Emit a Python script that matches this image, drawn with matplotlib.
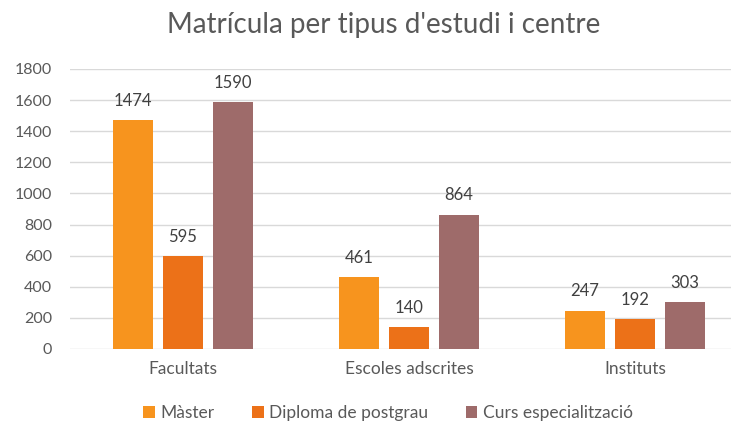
import numpy as np
import matplotlib
matplotlib.use('Agg')
import matplotlib.pyplot as plt

plt.rcParams['font.family'] = ['Lato', 'DejaVu Sans']

categories = ['Facultats', 'Escoles adscrites', 'Instituts']
series = ['Màster', 'Diploma de postgrau', 'Curs especialització']
master = [1474, 461, 247]
diploma = [595, 140, 192]
curs = [1590, 864, 303]
colors = ['#F7941E', '#EC7118', '#9E6B6A']
yticks = [0, 200, 400, 600, 800, 1000, 1200, 1400, 1600, 1800]

grey = '#595959'
fig = plt.figure(figsize=(7.31, 4.25), dpi=100)
W, H = 731., 425.
x0, x1 = 70., 748.
y0, y1 = 349., 69.
ax = fig.add_axes([x0/W, 1-y0/H, (x1-x0)/W, (y0-y1)/H])

x = np.arange(len(categories))
bw = 40./226.
step = 50./226.
for i, (vals, name, c) in enumerate(zip([master, diploma, curs], series, colors)):
    bars = ax.bar(x + (i-1)*step, vals, bw, color=c, label=name, zorder=3)
    for b, v in zip(bars, vals):
        ax.annotate(str(v), (b.get_x()+b.get_width()/2, v), xytext=(0, 8),
                    textcoords='offset points', ha='center', va='bottom',
                    fontsize=12, color='#404040')

ax.set_xlim(-0.5, 2.5)
ax.set_ylim(0, 1800)
ax.set_yticks(yticks)
ax.set_xticks(x)
ax.set_xticklabels(categories)
ax.grid(axis='y', color='#D9D9D9', lw=1, zorder=0)
for s in ['top', 'right', 'left', 'bottom']:
    ax.spines[s].set_visible(False)
ax.tick_params(axis='both', length=0, colors=grey, labelsize=11.5)
ax.tick_params(axis='y', pad=13)
ax.tick_params(axis='x', pad=9, labelsize=12.5)

fig.text(384/W, 1-33/H, "Matrícula per tipus d'estudi i centre", ha='center',
         va='baseline', fontsize=20, color=grey)

fig.legend(loc='center', bbox_to_anchor=(388/W, 1-413/H), ncol=3, frameon=False,
           fontsize=12.5, labelcolor=grey, handlelength=0.65, handleheight=0.65,
           handletextpad=0.3, columnspacing=2.2)

fig.savefig('out.png', dpi=100)
